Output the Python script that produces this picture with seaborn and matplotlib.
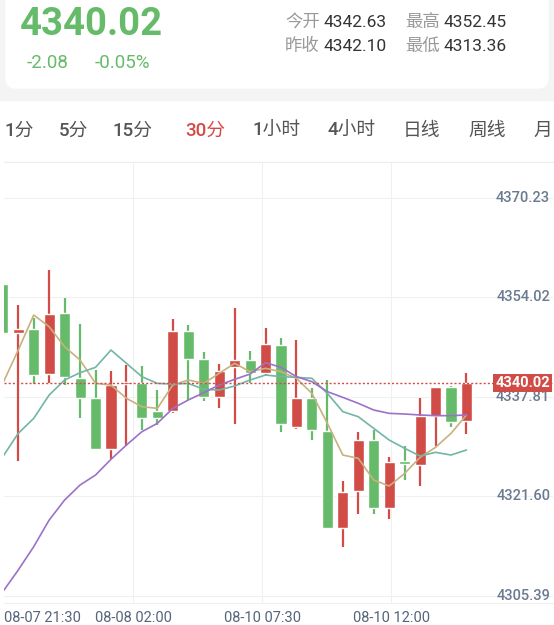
import numpy as np
import pandas as pd
import matplotlib
matplotlib.use("Agg")
import matplotlib.pyplot as plt
from matplotlib.patches import FancyBboxPatch, Rectangle
import seaborn as sns

sns.set_style("white")
plt.rcParams['font.family'] = ['Roboto', 'Noto Sans CJK SC', 'DejaVu Sans']

# ---- data ----
opens  = [4356.1, 4348.1, 4348.8, 4341.5, 4351.4, 4340.9, 4337.5, 4329.2, 4339.8, 4340.1, 4335.4, 4335.5,
          4348.5, 4343.9, 4337.8, 4342.6, 4343.8, 4341.6, 4346.2, 4332.9, 4337.5, 4332.2, 4316.4, 4322.5,
          4330.7, 4319.6, 4327.1, 4326.7, 4334.7, 4339.4, 4333.8]
closes = [4348.1, 4348.8, 4341.4, 4351.3, 4341.0, 4337.6, 4329.2, 4339.7, 4340.1, 4334.4, 4334.4, 4348.5,
          4344.0, 4337.8, 4342.0, 4343.8, 4341.6, 4346.4, 4333.3, 4337.5, 4332.4, 4316.4, 4322.3, 4330.7,
          4319.6, 4327.1, 4326.9, 4334.7, 4339.4, 4333.7, 4340.02]
highs  = [4356.5, 4352.8, 4350.6, 4358.4, 4353.9, 4349.6, 4342.1, 4342.0, 4343.0, 4342.8, 4338.9, 4350.4,
          4349.4, 4345.1, 4343.1, 4352.3, 4345.3, 4349.0, 4347.3, 4347.0, 4339.2, 4340.5, 4324.1, 4332.1,
          4332.4, 4328.0, 4329.8, 4337.5, 4339.4, 4339.5, 4341.7]
lows   = [4347.8, 4327.3, 4339.9, 4340.0, 4339.7, 4334.3, 4329.1, 4327.6, 4329.8, 4332.3, 4333.2, 4335.2,
          4337.3, 4337.1, 4336.0, 4333.3, 4340.1, 4341.3, 4332.1, 4332.6, 4330.7, 4316.3, 4313.36, 4318.7,
          4318.7, 4317.8, 4324.2, 4323.2, 4329.8, 4332.9, 4331.7]
ma1  = [4339.96, 4345.39, 4351.09, 4349.19, 4345.93, 4343.76, 4339.96, 4339.69, 4337.52, 4336.16, 4335.89,
        4339.69, 4340.51, 4339.96, 4341.59, 4343.22, 4341.86, 4342.41, 4341.86, 4340.78, 4338.33, 4333.45,
        4328.29, 4327.75, 4324.22, 4323.24, 4325.30, 4327.91, 4329.54, 4331.82, 4334.81]
ma20 = [4328.02, 4331.82, 4334.26, 4338.06, 4340.51, 4341.70, 4342.57, 4345.39, 4343.22, 4341.05, 4339.96,
        4339.85, 4339.96, 4338.99, 4338.88, 4339.53, 4340.51, 4341.32, 4341.05, 4340.94, 4340.78, 4338.33,
        4335.35, 4334.53, 4332.63, 4330.73, 4329.38, 4328.13, 4328.73, 4328.29, 4329.11]
ma30 = [4306.03, 4309.56, 4313.36, 4317.70, 4320.96, 4323.41, 4325.03, 4327.59, 4329.92, 4332.09, 4333.45,
        4335.89, 4337.25, 4338.44, 4339.69, 4340.61, 4341.48, 4343.33, 4342.57, 4341.05, 4340.24, 4338.61,
        4337.68, 4336.71, 4335.62, 4335.08, 4334.97, 4334.81, 4334.70, 4334.70, 4334.81]
ytick_vals = [4370.23, 4354.02, 4337.81, 4321.60, 4305.39]
xtick_labels = ["08-07 21:30", "08-08 02:00", "08-10 07:30", "08-10 12:00"]
xtick_pos = [0.078, 8.43, 16.79, 25.14]
tabs = ["1分", "5分", "15分", "30分", "1小时", "4小时", "日线", "周线", "月"]
tab_x = [5, 59, 112, 185, 253, 327, 403, 468, 533]
last_price = 4340.02

RED = "#d24c47"
GREEN = "#66bb6a"
W, H = 554, 625
fig = plt.figure(figsize=(W/100, H/100), dpi=100)
fig.patch.set_facecolor("white")

# header background
bg = fig.add_axes([0, 0, 1, 1]); bg.set_xlim(0, W); bg.set_ylim(H, 0); bg.axis("off")
bg.add_patch(Rectangle((0, 0), W, 100, color="#f4f4f4", zorder=0))
bg.add_patch(FancyBboxPatch((6, -20), 542, 108, boxstyle="round,pad=0,rounding_size=10",
                            color="white", zorder=1))
bg.text(20, 35, "4340.02", fontsize=27.5, fontweight="bold", color=GREEN, va="baseline", zorder=2)
bg.text(27, 68, "-2.08", fontsize=13.5, color=GREEN, va="baseline", zorder=2)
bg.text(95, 68, "-0.05%", fontsize=13.5, color=GREEN, va="baseline", zorder=2)
for lab, val, x, y in [("今开", "4342.63", 285, 27), ("最高", "4352.45", 405, 27),
                       ("昨收", "4342.10", 285, 51), ("最低", "4313.36", 405, 51)]:
    bg.text(x, y, lab, fontsize=12.5, color="#999999", va="baseline", zorder=2)
    bg.text(x + 38, y, val, fontsize=12.5, color="#333333", va="baseline", zorder=2)
for t, x in zip(tabs, tab_x):
    bg.text(x, 136, t, fontsize=13.5, color=RED if t == "30分" else "#555555",
            va="baseline", zorder=2, fontweight="medium")
bg.plot([4, 553], [162, 162], color="#eeeeee", lw=1)
for txt, x, c in [("MA1:4334.99", 11, "#c9b17f"), ("MA20:4329.16", 105, "#72b5a6"),
                  ("MA30:4334.97", 205, "#9b72c9")]:
    bg.text(x, 175, txt, fontsize=10.3, color=c, va="baseline", fontweight="medium")

# chart
ax = fig.add_axes([4/W, 1 - 603/H, 549/W, 440/H])
ax.set_xlim(0.078, 35.6)
ax.set_ylim(4304.19, 4375.85)
idx = np.arange(len(opens))
df = pd.DataFrame({"i": idx, "o": opens, "c": closes, "h": highs, "l": lows,
                   "ma1": ma1, "ma20": ma20, "ma30": ma30})
for v in ytick_vals:
    ax.axhline(v, color="#f0f0f0", lw=0.8, zorder=0)
for x in xtick_pos[1:]:
    ax.axvline(x, color="#f0f0f0", lw=0.8, zorder=0)
for _, r in df.iterrows():
    col = RED if r.c >= r.o else GREEN
    ax.vlines(r.i, r.l, r.h, color=col, lw=1.6, zorder=2)
    lo, hi = min(r.o, r.c), max(r.o, r.c)
    ax.bar(r.i, max(hi - lo, 0.35), bottom=lo, width=0.72, color=col, zorder=3)
sns.lineplot(data=df, x="i", y="ma1", color="#c9b17f", lw=1.2, ax=ax, zorder=4)
sns.lineplot(data=df, x="i", y="ma20", color="#72b5a6", lw=1.2, ax=ax, zorder=4)
sns.lineplot(data=df, x="i", y="ma30", color="#9b72c9", lw=1.2, ax=ax, zorder=4)
ax.axhline(last_price, color=RED, lw=1, ls=(0, (1.5, 1.5)), zorder=5)
for v in ytick_vals:
    ax.annotate(f"{v:.2f}", xy=(1, v), xycoords=("axes fraction", "data"),
                xytext=(-2, 0), textcoords="offset points", ha="right", va="center",
                fontsize=10.5, color="#6b7a90", fontweight="medium")
ax.annotate(f"{last_price:.2f}", xy=(1, last_price), xycoords=("axes fraction", "data"),
            xytext=(-2, 0), textcoords="offset points", ha="right", va="center",
            fontsize=10.5, color="white", fontweight="bold", zorder=6,
            bbox=dict(boxstyle="square,pad=0.15", fc=RED, ec="none"))
ax.set_xticks([]); ax.set_yticks([])
ax.set_xlabel(""); ax.set_ylabel("")
for s in ax.spines.values():
    s.set_visible(False)
ax.spines["bottom"].set_visible(True); ax.spines["bottom"].set_color("#f0f0f0")
for lab, x in zip(xtick_labels, xtick_pos):
    ax.annotate(lab, xy=(x, 0), xycoords=("data", "axes fraction"), xytext=(0, -6),
                textcoords="offset points", ha="left" if x < 1 else "center", va="top",
                fontsize=10.5, color="#56647a", annotation_clip=False)
fig.savefig("out.png", dpi=100)
